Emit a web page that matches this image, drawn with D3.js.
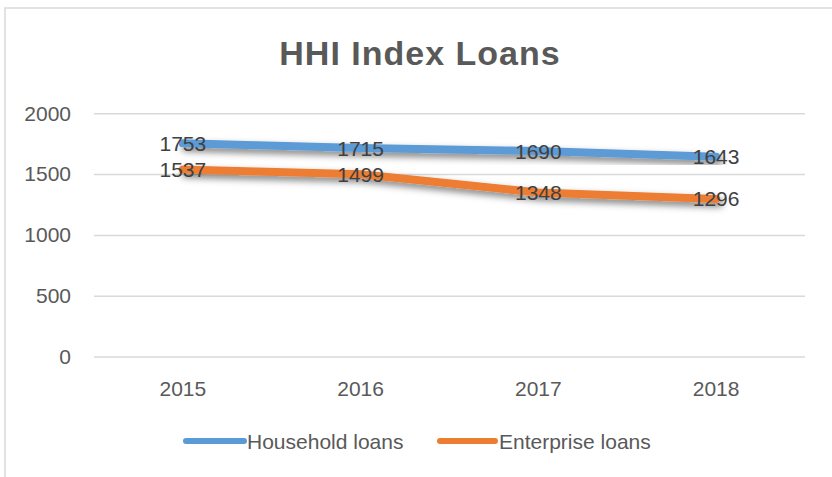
<!DOCTYPE html>
<html>
<head>
<meta charset="utf-8">
<script src="https://cdn.jsdelivr.net/npm/d3@7"></script>
<style>
  body { margin: 0; background: #fff; }
  text { font-family: "Liberation Sans", Arial, sans-serif; }
</style>
</head>
<body>
<div id="chart"></div>
<script>
// Data
const years = ["2015", "2016", "2017", "2018"];
const household = [1753, 1715, 1690, 1643];
const enterprise = [1537, 1499, 1348, 1296];
const yTicks = [0, 500, 1000, 1500, 2000];

const series = [
    { name: "Household loans", values: household, color: "#5B9BD5" },
    { name: "Enterprise loans", values: enterprise, color: "#ED7D31" }
];

const W = 832, H = 477;
const plot = { left: 94, right: 805, top: 113.3, bottom: 356.5 };

const svg = d3.select("#chart")
    .append("svg")
    .attr("width", W)
    .attr("height", H);

// Shadow for the lines
const defs = svg.append("defs");
defs.append("filter")
    .attr("id", "shadow")
    .attr("x", "-10%").attr("y", "-60%")
    .attr("width", "120%").attr("height", "220%")
    .append("feDropShadow")
    .attr("dx", 3)
    .attr("dy", 4)
    .attr("stdDeviation", 3.5)
    .attr("flood-color", "#000")
    .attr("flood-opacity", 0.5);

// Chart border (only top and left visible)
svg.append("path")
    .attr("d", `M5,${H} L5,8 L${W},8`)
    .attr("fill", "none")
    .attr("stroke", "#d9d9d9")
    .attr("stroke-width", 1.5);

// Title
svg.append("text")
    .attr("x", 420)
    .attr("y", 65)
    .attr("text-anchor", "middle")
    .style("font-size", "34px")
    .style("font-weight", "bold")
    .style("letter-spacing", "1px")
    .style("fill", "#595959")
    .text("HHI Index Loans");

// Scales
const x = d3.scaleBand()
    .domain(years)
    .range([plot.left, plot.right]);

const y = d3.scaleLinear()
    .domain([0, 2000])
    .range([plot.bottom, plot.top]);

// Grid lines
svg.append("g")
    .attr("transform", `translate(${plot.left},0)`)
    .call(d3.axisLeft(y)
        .tickValues(yTicks)
        .tickSize(-(plot.right - plot.left))
        .tickFormat(""))
    .call(g => g.select(".domain").remove())
    .call(g => g.selectAll("line")
        .attr("stroke", "#d9d9d9")
        .attr("stroke-width", 1.5));

// Y axis labels
svg.append("g")
    .attr("transform", `translate(71,0)`)
    .call(d3.axisLeft(y).tickValues(yTicks).tickFormat(d3.format("d")).tickSize(0).tickPadding(0))
    .call(g => g.select(".domain").remove())
    .call(g => g.selectAll("text")
        .style("font-size", "21px")
        .style("font-family", "Liberation Sans, Arial, sans-serif")
        .attr("fill", "#595959"));

// X axis labels
svg.append("g")
    .attr("transform", `translate(0,${plot.bottom})`)
    .call(d3.axisBottom(x).tickSize(0).tickPadding(0))
    .call(g => g.select(".domain").remove())
    .call(g => g.selectAll("text")
        .attr("dy", null)
        .attr("y", 39.5)
        .style("font-size", "21px")
        .style("font-family", "Liberation Sans, Arial, sans-serif")
        .attr("fill", "#595959"));

const cx = d => x(d) + x.bandwidth() / 2;

// Lines
const line = d3.line()
    .x((v, i) => cx(years[i]))
    .y(v => y(v));

series.forEach(s => {
    svg.append("path")
        .datum(s.values)
        .attr("fill", "none")
        .attr("stroke", s.color)
        .attr("stroke-width", 8)
        .attr("stroke-linecap", "round")
        .attr("stroke-linejoin", "round")
        .attr("filter", "url(#shadow)")
        .attr("d", line);
});

// Data labels
series.forEach(s => {
    svg.append("g")
        .selectAll("text")
        .data(s.values)
        .enter()
        .append("text")
        .attr("x", (v, i) => cx(years[i]))
        .attr("y", v => y(v))
        .attr("dy", "0.36em")
        .attr("text-anchor", "middle")
        .style("font-size", "21px")
        .style("fill", "#404040")
        .text(v => v);
});

// Legend
const legendItems = [
    { x1: 186, x2: 244, tx: 247 },
    { x1: 440, x2: 495, tx: 499 }
];
series.forEach((s, i) => {
    const L = legendItems[i];
    svg.append("line")
        .attr("x1", L.x1).attr("x2", L.x2)
        .attr("y1", 441).attr("y2", 441)
        .attr("stroke", s.color)
        .attr("stroke-width", 6)
        .attr("stroke-linecap", "round");
    svg.append("text")
        .attr("x", L.tx)
        .attr("y", 448.5)
        .style("font-size", "21px")
        .style("fill", "#595959")
        .text(s.name);
});
</script>
</body>
</html>
